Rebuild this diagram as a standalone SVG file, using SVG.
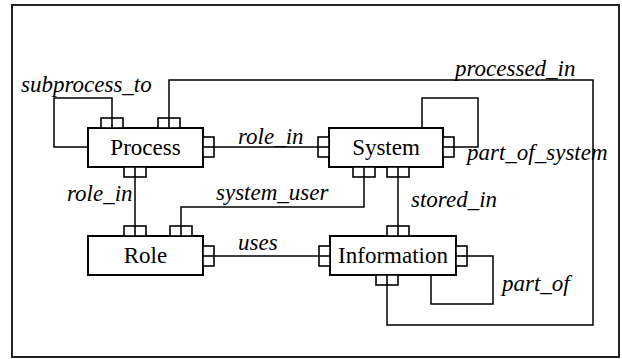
<svg xmlns="http://www.w3.org/2000/svg" width="622" height="359" viewBox="0 0 622 359">
<rect width="622" height="359" fill="#fff"/>
<rect x="12" y="5" width="607" height="352" fill="#fff" stroke="#222" stroke-width="2"/>
<g id="connectors" fill="none" stroke="#000" stroke-width="1.5">
<path d="M112,128 V98 H54 V147 H88"/>
<path d="M169,128 V80 H593 V325 H387 V275"/>
<path d="M203,147 H329"/>
<path d="M135,167 V236"/>
<path d="M364,167 V207 H181 V236"/>
<path d="M422,128 V98 H478 V147 H443"/>
<path d="M398,167 V236"/>
<path d="M203,256 H330"/>
<path d="M456,256 H493 V304 H431 V275"/>
</g>
<text x="21" y="92" style="font-family:'Liberation Serif',serif;font-style:italic" font-size="23">subprocess_to</text>
<text x="455" y="76" style="font-family:'Liberation Serif',serif;font-style:italic" font-size="23">processed_in</text>
<text x="238" y="144" style="font-family:'Liberation Serif',serif;font-style:italic" font-size="23">role_in</text>
<text x="467" y="160" style="font-family:'Liberation Serif',serif;font-style:italic" font-size="23">part_of_system</text>
<text x="216" y="200" style="font-family:'Liberation Serif',serif;font-style:italic" font-size="23">system_user</text>
<text x="411" y="207" style="font-family:'Liberation Serif',serif;font-style:italic" font-size="23">stored_in</text>
<text x="67" y="201" style="font-family:'Liberation Serif',serif;font-style:italic" font-size="23">role_in</text>
<text x="238" y="250" style="font-family:'Liberation Serif',serif;font-style:italic" font-size="23">uses</text>
<text x="502" y="291" style="font-family:'Liberation Serif',serif;font-style:italic" font-size="23">part_of</text>
<g id="process">
<rect x="88" y="128" width="115" height="39" fill="#fff" stroke="#000" stroke-width="2"/>
<text x="145.5" y="155" style="font-family:'Liberation Serif',serif" font-size="23" text-anchor="middle">Process</text>
<g fill="#fff" stroke="#000" stroke-width="1.6">
<rect x="101" y="118" width="22" height="10"/><line x1="112" y1="118" x2="112" y2="128"/>
<rect x="158" y="118" width="22" height="10"/><line x1="169" y1="118" x2="169" y2="128"/>
<rect x="203" y="137" width="11" height="20"/><line x1="203" y1="147" x2="214" y2="147"/>
<rect x="124" y="167" width="22" height="10"/><line x1="135" y1="167" x2="135" y2="177"/>
</g>
</g>
<g id="system">
<rect x="329" y="128" width="114" height="39" fill="#fff" stroke="#000" stroke-width="2"/>
<text x="386" y="155" style="font-family:'Liberation Serif',serif" font-size="23" text-anchor="middle">System</text>
<g fill="#fff" stroke="#000" stroke-width="1.6">
<rect x="318" y="137" width="11" height="20"/><line x1="318" y1="147" x2="329" y2="147"/>
<rect x="443" y="137" width="11" height="20"/><line x1="443" y1="147" x2="454" y2="147"/>
<rect x="353" y="167" width="22" height="10"/><line x1="364" y1="167" x2="364" y2="177"/>
<rect x="387" y="167" width="22" height="10"/><line x1="398" y1="167" x2="398" y2="177"/>
</g>
</g>
<g id="role">
<rect x="88" y="236" width="115" height="39" fill="#fff" stroke="#000" stroke-width="2"/>
<text x="145.5" y="263" style="font-family:'Liberation Serif',serif" font-size="23" text-anchor="middle">Role</text>
<g fill="#fff" stroke="#000" stroke-width="1.6">
<rect x="124" y="226" width="22" height="10"/><line x1="135" y1="226" x2="135" y2="236"/>
<rect x="170" y="226" width="22" height="10"/><line x1="181" y1="226" x2="181" y2="236"/>
<rect x="203" y="246" width="11" height="20"/><line x1="203" y1="256" x2="214" y2="256"/>
</g>
</g>
<g id="information">
<rect x="330" y="236" width="126" height="39" fill="#fff" stroke="#000" stroke-width="2"/>
<text x="393" y="263" style="font-family:'Liberation Serif',serif" font-size="23" text-anchor="middle">Information</text>
<g fill="#fff" stroke="#000" stroke-width="1.6">
<rect x="319" y="246" width="11" height="20"/><line x1="319" y1="256" x2="330" y2="256"/>
<rect x="387" y="226" width="22" height="10"/><line x1="398" y1="226" x2="398" y2="236"/>
<rect x="456" y="246" width="11" height="20"/><line x1="456" y1="256" x2="467" y2="256"/>
<rect x="376" y="275" width="22" height="10"/><line x1="387" y1="275" x2="387" y2="285"/>
</g>
</g>
</svg>
